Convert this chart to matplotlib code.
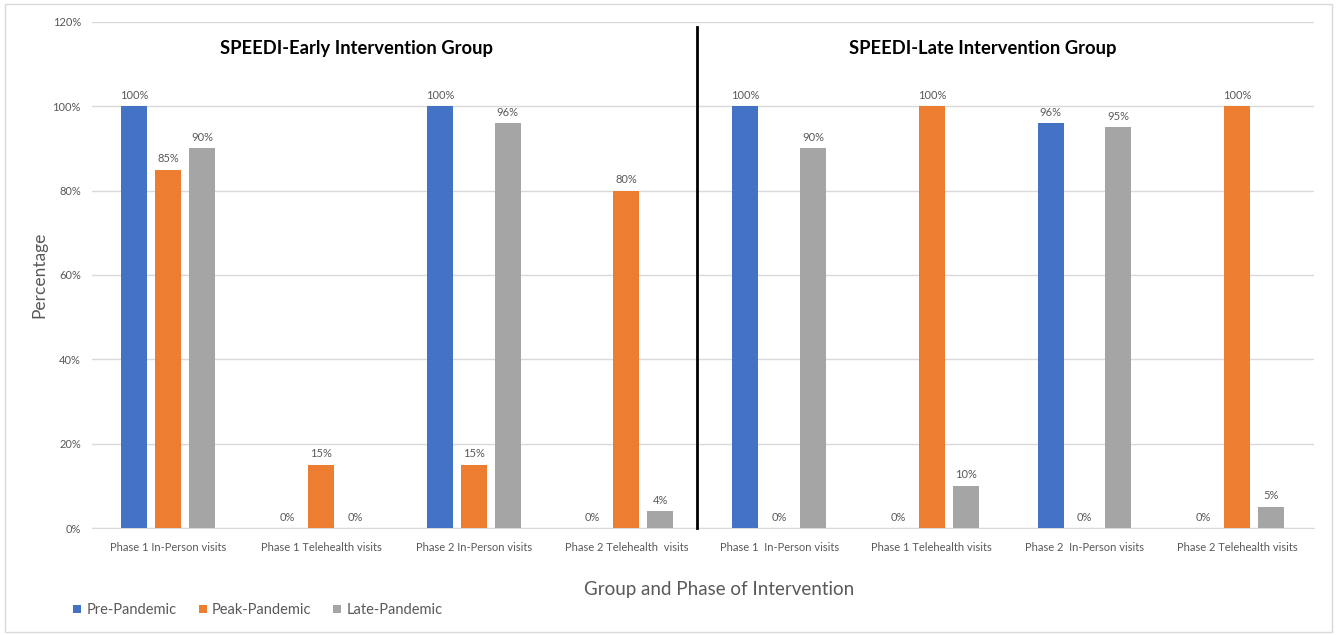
import matplotlib
matplotlib.use("Agg")
import matplotlib.pyplot as plt
from matplotlib.patches import Rectangle
import numpy as np

plt.rcParams['font.family'] = ['Lato', 'DejaVu Sans']

categories = [
    "Phase 1 In-Person visits", "Phase 1 Telehealth visits",
    "Phase 2 In-Person visits", "Phase 2 Telehealth  visits",
    "Phase 1  In-Person visits", "Phase 1 Telehealth visits",
    "Phase 2  In-Person visits", "Phase 2 Telehealth visits",
]
pre_pandemic = [100, 0, 100, 0, 100, 0, 96, 0]
peak_pandemic = [85, 15, 15, 80, 0, 100, 0, 100]
late_pandemic = [90, 0, 96, 4, 90, 10, 95, 5]
series_names = ["Pre-Pandemic", "Peak-Pandemic", "Late-Pandemic"]
colors = ["#4472C4", "#ED7D31", "#A5A5A5"]
group_titles = ["SPEEDI-Early Intervention Group", "SPEEDI-Late Intervention Group"]
y_ticks = [0, 20, 40, 60, 80, 100, 120]

fig = plt.figure(figsize=(13.39, 6.35), dpi=100)
ax = fig.add_axes([0.0687, 0.1685, 0.9123, 0.7969])

x = np.arange(len(categories))
width = 0.17
offsets = [-0.222, 0.0, 0.222]
label_color = "#595959"

for vals, off, col, name in zip([pre_pandemic, peak_pandemic, late_pandemic],
                                offsets, colors, series_names):
    bars = ax.bar(x + off, vals, width, color=col, label=name, zorder=3)
    for b, v in zip(bars, vals):
        ax.text(b.get_x() + b.get_width() / 2, v + 1.3, f"{v}%",
                ha="center", va="bottom", fontsize=8, color=label_color)

ax.set_xlim(-0.5, len(categories) - 0.5)
ax.set_ylim(0, 120)
ax.set_yticks(y_ticks)
ax.set_yticklabels([f"{t}%" for t in y_ticks])
ax.set_xticks(x)
ax.set_xticklabels(categories)
ax.tick_params(axis="both", length=0, labelsize=8, labelcolor=label_color)
ax.tick_params(axis="x", pad=10)
ax.tick_params(axis="y", pad=8)
ax.grid(axis="y", color="#D9D9D9", linewidth=1, zorder=0)
for s in ["top", "right", "left"]:
    ax.spines[s].set_visible(False)
ax.spines["bottom"].set_color("#D9D9D9")

# divider between the two intervention groups
ax.plot([3.46, 3.46], [0, 118.8], color="black", linewidth=2, zorder=4,
        clip_on=False)

ax.text(1.234, 113.8, group_titles[0], ha="center", va="center",
        fontsize=13.2, fontweight="bold", color="black")
ax.text(5.335, 113.8, group_titles[1], ha="center", va="center",
        fontsize=13.2, fontweight="bold", color="black")

ax.set_ylabel("Percentage", fontsize=12.5, color=label_color, labelpad=4)
fig.text(0.537, 0.071, "Group and Phase of Intervention", ha="center",
         va="center", fontsize=13.5, color=label_color)

fig.legend(loc="center left", bbox_to_anchor=(0.045, 0.039), ncol=3,
           frameon=False, fontsize=10.5, handlelength=0.55, handleheight=0.55,
           columnspacing=1.5, handletextpad=0.35, labelcolor=label_color)

fig.patches.append(Rectangle((0.004, 0.004), 0.991, 0.99, transform=fig.transFigure,
                             fill=False, edgecolor="#D9D9D9", linewidth=1))

fig.savefig("out.png", dpi=100)
